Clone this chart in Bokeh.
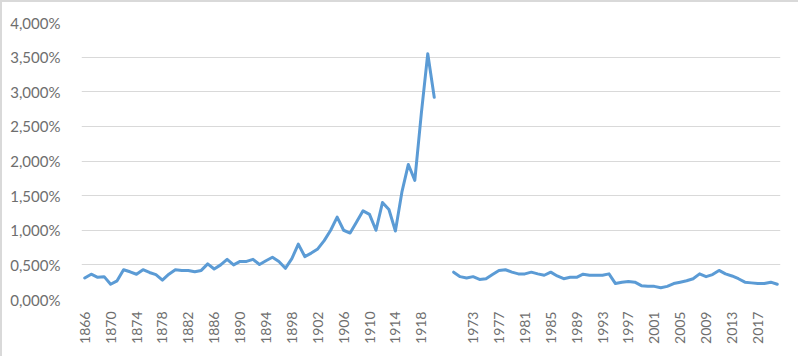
import math
from bokeh.plotting import figure
from bokeh.models import Range1d, FixedTicker, CustomJSTickFormatter
from bokeh.embed import file_html
from bokeh.resources import INLINE

nan = float("nan")

years_early = list(range(1866, 1921))
years_late = list(range(1970, 2021))
categories = [str(y) for y in years_early] + ["", ""] + [str(y) for y in years_late]

values_early = [
    0.31, 0.365, 0.32, 0.33, 0.22, 0.27, 0.43, 0.40, 0.365, 0.43,
    0.39, 0.36, 0.28, 0.365, 0.43, 0.42, 0.42, 0.40, 0.42, 0.515,
    0.44, 0.50, 0.58, 0.50, 0.55, 0.55, 0.58, 0.505, 0.56, 0.61,
    0.55, 0.45, 0.59, 0.80, 0.62, 0.67, 0.73, 0.85, 1.00, 1.19,
    1.00, 0.96, 1.12, 1.28, 1.23, 1.00, 1.40, 1.30, 0.99, 1.55,
    1.95, 1.72, 2.68, 3.55, 2.92,
]
values_gap = [nan, nan]
values_late = [
    0.395, 0.33, 0.31, 0.33, 0.29, 0.30, 0.36, 0.42, 0.43, 0.395,
    0.37, 0.37, 0.395, 0.37, 0.35, 0.395, 0.34, 0.30, 0.32, 0.32,
    0.365, 0.35, 0.35, 0.35, 0.37, 0.23, 0.25, 0.26, 0.25, 0.20,
    0.19, 0.19, 0.17, 0.19, 0.23, 0.25, 0.27, 0.30, 0.37, 0.33,
    0.36, 0.42, 0.37, 0.34, 0.30, 0.25, 0.24, 0.23, 0.23, 0.25,
    0.22,
]
values = values_early + values_gap + values_late

y_ticks = [0, 0.5, 1.0, 1.5, 2.0, 2.5, 3.0, 3.5, 4.0]

idx = list(range(len(categories)))
label_idx = [i for i in idx if i % 4 == 0 and categories[i] != ""]

p = figure(width=798, height=356, output_backend="svg", toolbar_location=None,
           x_range=Range1d(-0.5, len(categories) - 0.5), y_range=Range1d(0, 4.0),
           min_border_left=79, min_border_right=20, min_border_top=20, min_border_bottom=59)
p.outline_line_color = None
p.background_fill_color = "white"
p.border_fill_color = "white"
p.styles = {"border-top": "2px solid #D9D9D9", "border-left": "2px solid #D9D9D9"}

p.line(idx, values, line_color="#5B9BD5", line_width=3,
       line_join="round", line_cap="round")

p.xgrid.grid_line_color = None
p.ygrid.grid_line_color = "#D9D9D9"
p.ygrid.grid_line_width = 1

p.yaxis.ticker = FixedTicker(ticks=y_ticks)
p.yaxis.formatter = CustomJSTickFormatter(code="return tick.toFixed(3).replace('.', ',') + '%';")
p.xaxis.ticker = FixedTicker(ticks=label_idx)
p.xaxis.major_label_overrides = {i: categories[i] for i in label_idx}
p.xaxis.major_label_orientation = math.pi / 2

for ax in (p.xaxis[0], p.yaxis[0]):
    ax.axis_line_color = None
    ax.major_tick_line_color = None
    ax.minor_tick_line_color = None
    ax.major_label_text_font = "Lato"
    ax.major_label_text_color = "#6E6E6E"

p.yaxis.major_label_text_font_size = "15px"
p.yaxis.major_label_standoff = 15
p.xaxis.major_label_text_font_size = "14px"
p.xaxis.major_label_standoff = 6

open("out.html", "w").write(file_html(p, INLINE))
